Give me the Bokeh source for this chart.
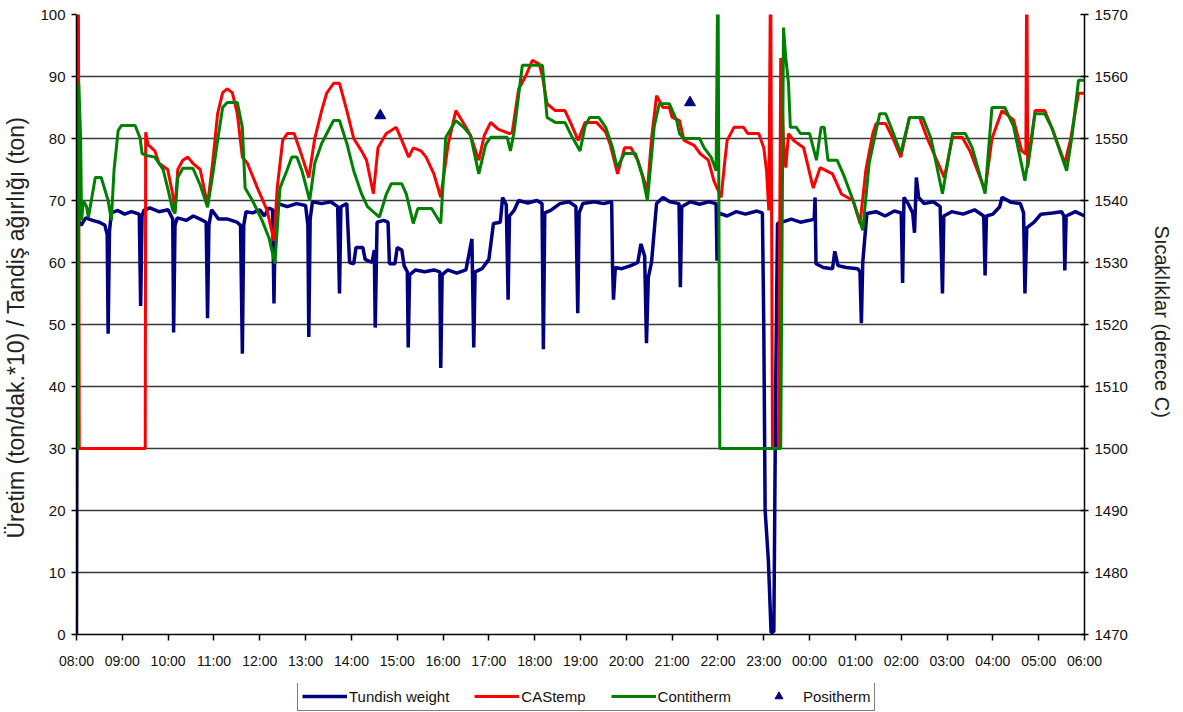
from bokeh.plotting import figure
from bokeh.layouts import column
from bokeh.models import Range1d, LinearAxis, FixedTicker, Legend, LegendItem, ColumnDataSource
from bokeh.embed import file_html
from bokeh.resources import INLINE

# x axis: hours elapsed since 08:00
hour_labels = ["08:00", "09:00", "10:00", "11:00", "12:00", "13:00", "14:00", "15:00",
               "16:00", "17:00", "18:00", "19:00", "20:00", "21:00", "22:00", "23:00",
               "00:00", "01:00", "02:00", "03:00", "04:00", "05:00", "06:00"]
left_ticks = [0, 10, 20, 30, 40, 50, 60, 70, 80, 90, 100]
right_ticks = [1470, 1480, 1490, 1500, 1510, 1520, 1530, 1540, 1550, 1560, 1570]

# Tundish weight (ton) - (hours since 08:00, value)
tundish = [
    (0.00, 0), (0.02, 67.0), (0.10, 66.0), (0.20, 67.2), (0.35, 66.8), (0.50, 66.5), (0.62, 66.0),
    (0.67, 64.5), (0.69, 48.5), (0.72, 65.0), (0.76, 68.0), (0.90, 68.4), (1.05, 67.8), (1.20, 68.2),
    (1.37, 67.8), (1.40, 53.0), (1.43, 67.5), (1.47, 68.4), (1.60, 68.8), (1.80, 68.2), (2.00, 68.5),
    (2.10, 67.0), (2.12, 48.7), (2.15, 66.0), (2.20, 67.2), (2.40, 66.8), (2.55, 67.5), (2.70, 67.0),
    (2.83, 66.5), (2.86, 51.0), (2.89, 66.0), (2.95, 68.5), (3.10, 67.0), (3.30, 67.0), (3.50, 66.5),
    (3.58, 66.0), (3.62, 45.3), (3.65, 66.0), (3.70, 68.2), (3.85, 68.0), (4.00, 68.5), (4.10, 67.5),
    (4.20, 68.8), (4.28, 68.5), (4.31, 53.4), (4.34, 68.0), (4.40, 69.5), (4.60, 69.0), (4.80, 69.5),
    (5.00, 69.2), (5.05, 66.0), (5.07, 48.0), (5.10, 67.0), (5.15, 69.8), (5.35, 69.5), (5.55, 69.8),
    (5.70, 69.0), (5.74, 55.0), (5.77, 69.0), (5.90, 69.5), (5.96, 60.0), (6.05, 59.8), (6.10, 62.4),
    (6.25, 62.4), (6.30, 60.5), (6.45, 60.0), (6.50, 62.0), (6.52, 49.5), (6.56, 66.5), (6.70, 66.8),
    (6.80, 66.5), (6.83, 59.8), (6.95, 59.8), (7.00, 62.4), (7.10, 62.0), (7.15, 59.5), (7.22, 58.5),
    (7.24, 46.3), (7.27, 58.0), (7.40, 58.8), (7.60, 58.5), (7.80, 58.8), (7.93, 58.5), (7.95, 43.0),
    (7.98, 58.0), (8.10, 58.8), (8.30, 58.3), (8.50, 58.8), (8.63, 63.8), (8.67, 46.3), (8.70, 58.5),
    (8.85, 59.0), (9.00, 60.5), (9.10, 66.3), (9.25, 66.5), (9.30, 70.5), (9.38, 69.3), (9.42, 54.0),
    (9.45, 67.5), (9.55, 68.4), (9.65, 70.0), (9.85, 69.6), (10.05, 70.0), (10.16, 69.5), (10.19, 46.0),
    (10.22, 68.0), (10.35, 68.4), (10.55, 69.5), (10.75, 69.8), (10.90, 69.0), (10.94, 51.8), (10.97, 68.0),
    (11.05, 69.5), (11.30, 69.8), (11.50, 69.5), (11.68, 69.8), (11.70, 59.2), (11.72, 54.0), (11.76, 59.2),
    (11.90, 59.0), (12.10, 59.5), (12.25, 60.0), (12.32, 63.0), (12.40, 61.0), (12.44, 47.0), (12.48, 57.6),
    (12.55, 60.0), (12.66, 69.5), (12.80, 70.5), (12.95, 69.8), (13.15, 69.5), (13.18, 56.0), (13.21, 69.0),
    (13.40, 69.8), (13.60, 69.4), (13.80, 69.8), (13.96, 69.5), (13.98, 60.3), (14.01, 68.0), (14.20, 67.5),
    (14.40, 68.2), (14.60, 67.8), (14.85, 68.3), (14.97, 68.0), (15.00, 50.0), (15.03, 20.0), (15.10, 12.0),
    (15.16, 0.3), (15.22, 0.5), (15.26, 40.0), (15.30, 66.3), (15.40, 66.5), (15.60, 67.0), (15.80, 66.5),
    (16.00, 66.8), (16.10, 67.0), (16.12, 70.5), (16.14, 59.8), (16.30, 59.2), (16.50, 59.0), (16.55, 61.8),
    (16.62, 59.5), (16.80, 59.2), (17.05, 59.0), (17.10, 58.5), (17.13, 50.2), (17.16, 60.0), (17.25, 67.9),
    (17.45, 68.2), (17.65, 67.5), (17.85, 68.3), (18.00, 68.0), (18.03, 56.7), (18.06, 70.5), (18.15, 69.5),
    (18.25, 68.0), (18.29, 64.8), (18.33, 73.7), (18.38, 70.5), (18.50, 69.5), (18.70, 69.8), (18.85, 69.0),
    (18.90, 55.0), (18.93, 67.5), (19.10, 68.2), (19.35, 67.8), (19.60, 68.5), (19.80, 67.5), (19.83, 57.9),
    (19.86, 67.5), (20.00, 67.8), (20.15, 69.0), (20.20, 70.5), (20.40, 69.7), (20.60, 69.5), (20.67, 68.0),
    (20.70, 55.0), (20.74, 65.6), (20.90, 66.5), (21.05, 67.8), (21.30, 68.0), (21.50, 68.2), (21.55, 67.5),
    (21.57, 58.7), (21.60, 67.5), (21.80, 68.2), (22.00, 67.5),
]

# CAStemp (deg C)
castemp = [
    (0.00, 1500), (0.03, 1500), (0.04, 1580), (0.06, 1500), (1.50, 1500), (1.51, 1551), (1.56, 1549),
    (1.71, 1548), (1.80, 1546), (1.99, 1545), (2.10, 1541), (2.15, 1538.4), (2.21, 1545), (2.32, 1546.5),
    (2.43, 1547), (2.54, 1546), (2.70, 1545), (2.86, 1539.3), (2.97, 1546), (3.08, 1554), (3.19, 1557.4),
    (3.29, 1558), (3.40, 1557.4), (3.51, 1554), (3.62, 1547), (3.73, 1546), (3.95, 1542), (4.16, 1538.4),
    (4.31, 1533.5), (4.38, 1542), (4.50, 1549.7), (4.60, 1550.8), (4.75, 1550.8), (4.90, 1547.6),
    (5.07, 1543.7), (5.20, 1550), (5.35, 1554.5), (5.46, 1557.3), (5.61, 1558.9), (5.74, 1558.9),
    (5.90, 1554.5), (6.05, 1550), (6.22, 1548), (6.33, 1546.5), (6.48, 1541.1), (6.58, 1548.5),
    (6.76, 1550.8), (6.98, 1551.8), (7.10, 1549.7), (7.25, 1547), (7.35, 1548.5), (7.52, 1548),
    (7.63, 1547), (7.80, 1544.3), (7.95, 1540.5), (8.11, 1549), (8.28, 1554.5), (8.50, 1551.8),
    (8.60, 1550.5), (8.78, 1546.5), (8.90, 1550.5), (9.04, 1552.6), (9.20, 1551.5), (9.45, 1550.8),
    (9.51, 1551), (9.65, 1558), (9.80, 1560), (9.95, 1562.6), (10.10, 1562), (10.17, 1560),
    (10.27, 1555.6), (10.45, 1554.5), (10.66, 1554.5), (10.78, 1552.6), (10.95, 1549.7), (11.10, 1552.6),
    (11.35, 1552.6), (11.55, 1551), (11.65, 1549), (11.81, 1544.3), (11.96, 1548.5), (12.10, 1548.5),
    (12.25, 1546.5), (12.46, 1541.6), (12.55, 1550), (12.66, 1556.9), (12.80, 1555), (12.94, 1555),
    (13.00, 1553.4), (13.16, 1552.9), (13.26, 1549.7), (13.48, 1548.9), (13.62, 1547.5), (13.79, 1546.5),
    (13.91, 1543.2), (14.07, 1540.5), (14.13, 1545), (14.20, 1549.7), (14.35, 1551.8), (14.56, 1551.8),
    (14.65, 1550.8), (14.89, 1550.8), (15.00, 1548.5), (15.06, 1544.8), (15.11, 1538.4), (15.15, 1580),
    (15.19, 1500), (15.32, 1500), (15.37, 1563), (15.43, 1549.7), (15.48, 1545.3), (15.54, 1550.8),
    (15.65, 1549.7), (15.87, 1548.5), (16.08, 1542), (16.23, 1545.3), (16.50, 1544.3), (16.70, 1541),
    (16.95, 1540), (17.10, 1536.3), (17.23, 1545), (17.38, 1550.8), (17.45, 1552.4), (17.66, 1552.4),
    (17.82, 1550), (17.99, 1547), (18.18, 1553.4), (18.40, 1553.4), (18.57, 1550), (18.94, 1543.7),
    (19.12, 1550.2), (19.33, 1550.2), (19.50, 1548), (19.83, 1541.6), (19.98, 1550), (20.20, 1554.5),
    (20.45, 1553), (20.63, 1548), (20.72, 1547.5), (20.74, 1580), (20.76, 1545.3), (20.85, 1550),
    (20.92, 1554.5), (21.13, 1554.5), (21.30, 1551.5), (21.57, 1546), (21.70, 1550), (21.87, 1557.3),
    (22.00, 1557.3),
]

# Contitherm (deg C)
contitherm = [
    (0.00, 1500), (0.04, 1500), (0.05, 1558.9), (0.09, 1550), (0.11, 1536.8), (0.15, 1540), (0.22, 1539),
    (0.26, 1537.3), (0.41, 1543.7), (0.54, 1543.7), (0.69, 1540), (0.76, 1536.8), (0.82, 1545),
    (0.91, 1551.3), (0.98, 1552.1), (1.28, 1552.1), (1.39, 1550), (1.43, 1547.6), (1.50, 1547.3),
    (1.71, 1547), (1.89, 1545), (1.99, 1542), (2.10, 1538.5), (2.15, 1537.9), (2.21, 1543.7),
    (2.32, 1545.2), (2.54, 1545.2), (2.70, 1542.5), (2.86, 1538.9), (2.97, 1544), (3.08, 1549.7),
    (3.19, 1555), (3.29, 1555.8), (3.51, 1555.8), (3.62, 1551.8), (3.68, 1542), (3.84, 1540),
    (4.05, 1536.8), (4.20, 1534), (4.33, 1529.8), (4.44, 1542), (4.59, 1544.8), (4.70, 1547),
    (4.81, 1547), (4.92, 1544.8), (5.09, 1540), (5.20, 1546), (5.35, 1549.2), (5.61, 1552.9),
    (5.74, 1552.9), (5.90, 1549.2), (6.05, 1544.8), (6.22, 1541.1), (6.35, 1539), (6.61, 1537.3),
    (6.76, 1541), (6.87, 1542.7), (7.10, 1542.7), (7.20, 1541), (7.35, 1536.3), (7.45, 1538.7),
    (7.75, 1538.7), (7.85, 1537.5), (7.95, 1536.3), (8.06, 1550.2), (8.28, 1552.9), (8.45, 1551.8),
    (8.60, 1550.5), (8.78, 1544.3), (8.93, 1549), (9.04, 1550.2), (9.40, 1550.2), (9.47, 1548),
    (9.55, 1551), (9.73, 1561.8), (10.17, 1561.8), (10.27, 1553.4), (10.45, 1552.6), (10.66, 1552.6),
    (10.80, 1550.5), (10.99, 1548), (11.10, 1552), (11.20, 1553.4), (11.40, 1553.4), (11.55, 1551.8),
    (11.70, 1548.5), (11.80, 1545.3), (11.96, 1547.6), (12.20, 1547.6), (12.35, 1544), (12.46, 1540),
    (12.61, 1552), (12.72, 1555.6), (12.94, 1555.6), (13.10, 1552.9), (13.16, 1550.8), (13.25, 1550),
    (13.60, 1550), (13.70, 1548.5), (13.85, 1547), (13.96, 1544.8), (14.00, 1580), (14.04, 1500),
    (15.37, 1500), (15.43, 1567.9), (15.48, 1563), (15.54, 1558.9), (15.58, 1551.8), (15.71, 1551.8),
    (15.80, 1550.8), (16.00, 1550.8), (16.15, 1546.5), (16.25, 1551.8), (16.32, 1551.8), (16.40, 1546.5),
    (16.60, 1546.5), (16.75, 1544), (16.95, 1540), (17.16, 1535.2), (17.30, 1546), (17.53, 1554),
    (17.66, 1554), (17.82, 1551), (17.99, 1547.6), (18.18, 1553.4), (18.47, 1553.4), (18.65, 1550),
    (18.90, 1541.1), (19.12, 1550.8), (19.40, 1550.8), (19.55, 1548.5), (19.83, 1541.1), (19.98, 1555),
    (20.26, 1555), (20.45, 1552), (20.70, 1543.2), (20.92, 1554), (21.13, 1554), (21.30, 1551.5),
    (21.61, 1544.8), (21.72, 1550), (21.87, 1559.4), (22.00, 1559.4),
]

# Positherm measurements (deg C)
positherm_t = [6.63, 13.39]
positherm_v = [1553.7, 1555.8]

FONT = "Liberation Sans"
BLUE, RED, GREEN = "#000080", "#FF0000", "#008000"
W = 1175

p = figure(width=W, height=683, output_backend="svg", toolbar_location=None,
           x_range=Range1d(0, 22), y_range=Range1d(0, 100),
           min_border_left=70, min_border_right=90, min_border_top=14, min_border_bottom=49,
           outline_line_color=None, background_fill_color="white")
p.extra_y_ranges = {"temp": Range1d(1470, 1570)}

# x axis
xa = p.xaxis[0]
xa.ticker = FixedTicker(ticks=list(range(len(hour_labels))))
xa.major_label_overrides = {i: lab for i, lab in enumerate(hour_labels)}
xa.major_tick_in = 0
xa.major_tick_out = 6
xa.minor_tick_line_color = None
xa.axis_line_width = 1.5
xa.major_tick_line_width = 1.5
xa.major_label_text_font = FONT
xa.major_label_text_font_size = "14px"
xa.major_label_text_color = "#111111"
xa.major_label_standoff = 12

# left axis
ya = p.yaxis[0]
ya.ticker = FixedTicker(ticks=left_ticks)
ya.major_tick_in = 0
ya.major_tick_out = 5
ya.minor_tick_line_color = None
ya.axis_line_width = 1.5
ya.major_tick_line_width = 1.5
ya.major_label_text_font = FONT
ya.major_label_text_font_size = "15px"
ya.major_label_text_color = "#111111"
ya.major_label_standoff = 6
ya.axis_label = "Üretim  (ton/dak.*10) / Tandiş ağırlığı (ton)"
ya.axis_label_text_font = FONT
ya.axis_label_text_font_size = "23px"
ya.axis_label_text_font_style = "normal"
ya.axis_label_text_color = "#222222"
ya.axis_label_standoff = 8

# right axis
ra = LinearAxis(y_range_name="temp", ticker=FixedTicker(ticks=right_ticks))
ra.major_tick_in = 4
ra.major_tick_out = 4
ra.minor_tick_line_color = None
ra.axis_line_width = 1.5
ra.major_tick_line_width = 1.5
ra.major_label_text_font = FONT
ra.major_label_text_font_size = "15px"
ra.major_label_text_color = "#111111"
ra.major_label_standoff = 6
ra.axis_label = "Sıcaklıklar  (derece C)"
ra.axis_label_text_font = FONT
ra.axis_label_text_font_size = "20px"
ra.axis_label_text_font_style = "normal"
ra.axis_label_text_color = "#222222"
ra.axis_label_standoff = 20
p.add_layout(ra, "right")

# grid
p.xgrid.visible = False
p.ygrid.ticker = FixedTicker(ticks=left_ticks)
p.ygrid.grid_line_color = "#3a3a3a"
p.ygrid.grid_line_width = 1.5

src_t = ColumnDataSource(dict(x=[a for a, b in tundish], y=[b for a, b in tundish]))
src_c = ColumnDataSource(dict(x=[a for a, b in castemp], y=[b for a, b in castemp]))
src_k = ColumnDataSource(dict(x=[a for a, b in contitherm], y=[b for a, b in contitherm]))
src_p = ColumnDataSource(dict(x=positherm_t, y=positherm_v))


def add_series(fig, visible=True):
    a = fig.line("x", "y", source=src_t, line_color=BLUE, line_width=3.5, visible=visible)
    b = fig.line("x", "y", source=src_c, y_range_name="temp", line_color=RED, line_width=3,
                 visible=visible)
    c = fig.line("x", "y", source=src_k, y_range_name="temp", line_color=GREEN, line_width=3,
                 visible=visible)
    d = fig.scatter("x", "y", source=src_p, y_range_name="temp", marker="triangle", size=11,
                    fill_color=BLUE, line_color=BLUE, visible=visible)
    return a, b, c, d


add_series(p)

# legend strip below the chart (same series, legend only)
leg = figure(width=W, height=28, output_backend="svg", toolbar_location=None,
             x_range=p.x_range, y_range=p.y_range, min_border=0,
             x_axis_type=None, y_axis_type=None, outline_line_color=None)
leg.extra_y_ranges = {"temp": Range1d(1470, 1570)}
leg.xgrid.visible = False
leg.ygrid.visible = False
l1, l2, l3, l4 = add_series(leg, visible=False)

legend = Legend(items=[LegendItem(label="Tundish weight", renderers=[l1]),
                       LegendItem(label="CAStemp", renderers=[l2]),
                       LegendItem(label="Contitherm", renderers=[l3]),
                       LegendItem(label="Positherm", renderers=[l4])],
                orientation="horizontal", location=(221, 0), click_policy="none",
                border_line_color="black", border_line_width=1,
                label_text_font=FONT, label_text_font_size="15px", label_text_color="#111111",
                glyph_width=45, glyph_height=20, label_height=20,
                label_standoff=2, spacing=25, padding=4, margin=0)
leg.add_layout(legend, "center")

layout = column(p, leg, spacing=0)

open("out.html", "w").write(file_html(layout, INLINE))
